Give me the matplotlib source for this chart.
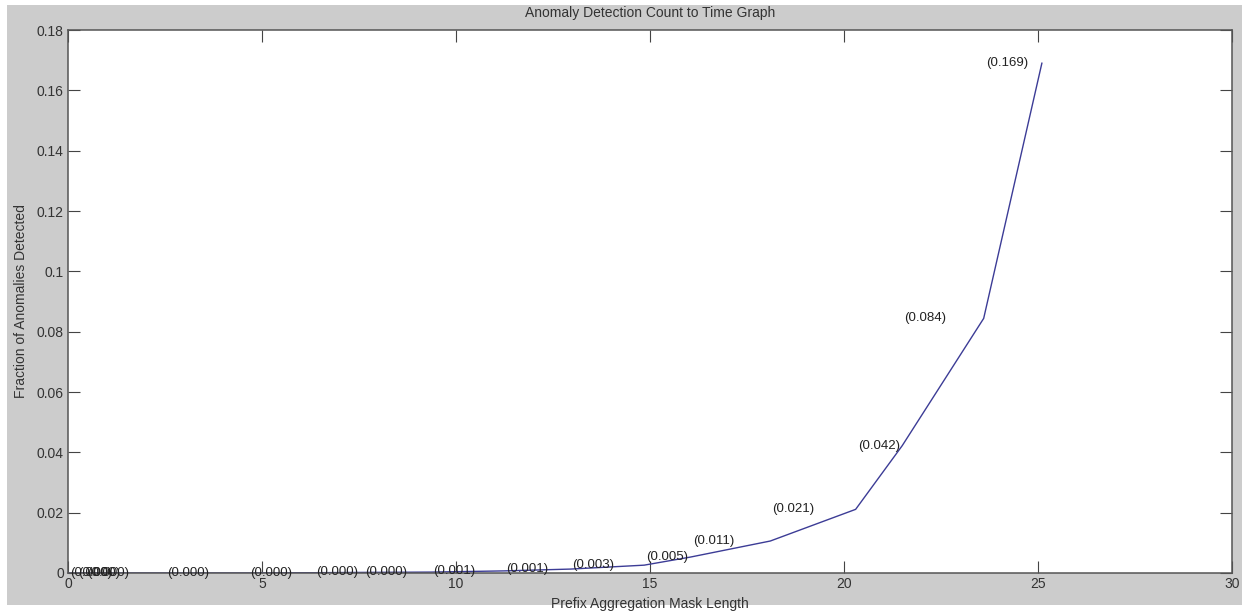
import numpy as np
import matplotlib as mpl
import matplotlib.pyplot as plt
from matplotlib.patches import Rectangle

mpl.use('Agg')

mpl.rcParams['font.family'] = ['Liberation Sans', 'DejaVu Sans']
mpl.rcParams['font.size'] = 10

# mask length / time axis and detected fraction
mask_length = [0.0, 0.2, 0.45, 2.5, 4.65, 6.35, 7.6, 9.35, 11.25, 12.95,
               14.85, 16.05, 18.1, 20.3, 21.5, 23.6, 25.1]
fraction = [0.0, 0.0, 0.0, 0.0, 0.0000, 0.0001, 0.0002, 0.0003, 0.0007, 0.0013,
            0.0026, 0.0053, 0.0106, 0.0211, 0.0422, 0.0844, 0.169]

x_ticks = [0, 5, 10, 15, 20, 25, 30]
y_ticks = [0, 0.02, 0.04, 0.06, 0.08, 0.1, 0.12, 0.14, 0.16, 0.18]


def matlab_format(v: float) -> str:
    return '{:g}'.format(round(v, 4))


def main():
    fig = plt.figure(figsize=(12.42, 6.12), dpi=100, facecolor='white')
    # grey figure panel, with the thin white strip left/top/bottom
    fig.patches.append(Rectangle((7 / 1242, 7 / 612), 1 - 7 / 1242, 600 / 612,
                                 transform=fig.transFigure, facecolor='#cccccc',
                                 edgecolor='none', zorder=-10))
    ax = fig.add_axes([68 / 1242, 39 / 612, 1164 / 1242, 543 / 612])
    ax.set_facecolor('white')

    ax.plot(mask_length, fraction, color='#3c3c96', lw=1.0)

    # labels land one point to the left of the value they show
    for i in range(1, len(fraction)):
        ax.annotate('({:.3f})'.format(fraction[i]), xy=(mask_length[i - 1], fraction[i]),
                    xytext=(1.5, 0), textcoords='offset points',
                    ha='left', va='center', fontsize=9.5, color='#222222')

    ax.set_xlim(0, 30)
    ax.set_ylim(0, 0.18)
    ax.set_xticks(x_ticks)
    ax.set_xticklabels([matlab_format(v) for v in x_ticks])
    ax.set_yticks(y_ticks)
    ax.set_yticklabels([matlab_format(v) for v in y_ticks])
    ax.tick_params(direction='in', top=True, right=True, length=8.4, width=0.8,
                   color='#444444', labelcolor='#333333', labelsize=10, pad=3)
    for s in ax.spines.values():
        s.set_color('#555555')
        s.set_linewidth(1.1)

    ax.set_title('Anomaly Detection Count to Time Graph', fontsize=10,
                 color='#333333', pad=9)
    ax.set_xlabel('Prefix Aggregation Mask Length', fontsize=10, color='#333333', labelpad=4)
    ax.set_ylabel('Fraction of Anomalies Detected', fontsize=10, color='#333333', labelpad=6)

    fig.savefig('out.png', dpi=100, facecolor=fig.get_facecolor())
    plt.close(fig)


if __name__ == '__main__':
    main()
